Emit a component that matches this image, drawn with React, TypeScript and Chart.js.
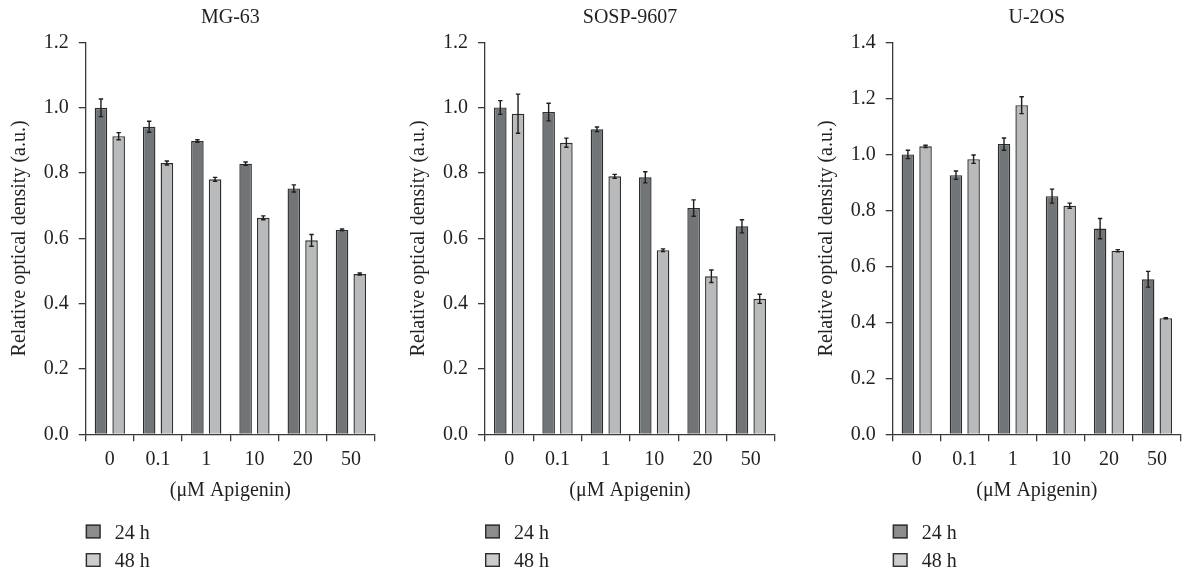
import React, { useEffect, useRef } from "react";
import { Chart, registerables } from "chart.js";

Chart.register(...registerables);

const categories = ["0", "0.1", "1", "10", "20", "50"];
const seriesLabels = ["24 h", "48 h"];
const panelTitles = ["MG-63", "SOSP-9607", "U-2OS"];
const yMaxes = [1.2, 1.2, 1.4];

const mg63_24h = [1.0, 0.942, 0.898, 0.829, 0.753, 0.626];
const mg63_24hErr = [0.027, 0.017, 0.004, 0.005, 0.011, 0.003];
const mg63_48h = [0.913, 0.831, 0.781, 0.663, 0.594, 0.491];
const mg63_48hErr = [0.011, 0.006, 0.006, 0.006, 0.018, 0.003];

const sosp_24h = [1.001, 0.987, 0.934, 0.787, 0.693, 0.637];
const sosp_24hErr = [0.021, 0.027, 0.007, 0.017, 0.025, 0.02];
const sosp_48h = [0.982, 0.893, 0.79, 0.564, 0.484, 0.415];
const sosp_48hErr = [0.06, 0.014, 0.006, 0.004, 0.019, 0.014];

const u2os_24h = [1.0, 0.926, 1.037, 0.851, 0.735, 0.554];
const u2os_24hErr = [0.015, 0.015, 0.022, 0.025, 0.036, 0.028];
const u2os_48h = [1.029, 0.983, 1.176, 0.817, 0.656, 0.415];
const u2os_48hErr = [0.004, 0.015, 0.03, 0.009, 0.004, 0.002];

const FONT = "'Liberation Serif', 'Times New Roman', serif";
const TEXT = "#231f20";
const AXIS = "#3a3a3a";
const BAR_FILL = ["#717577", "#b8babb"];
const SWATCH_FILL = ["#8a8c8e", "#cacccd"];
const BAR_BORDER = "#2e2e2e";

type PanelProps = {
  title: string;
  s24: number[];
  e24: number[];
  s48: number[];
  e48: number[];
  yMax: number;
  left: number;
  padLeft: number;
  padRight: number;
};

function Panel({ title, s24, e24, s48, e48, yMax, left, padLeft, padRight }: PanelProps) {
  const ref = useRef<HTMLCanvasElement | null>(null);
  useEffect(() => {
    if (!ref.current) return;
    const errors = [e24, e48];
    const decor = {
      id: "decor",
      afterDatasetsDraw(chart: any) {
        const ctx = chart.ctx;
        const yScale = chart.scales.y;
        ctx.save();
        ctx.strokeStyle = "#1e1e1e";
        ctx.lineWidth = 1.4;
        chart.data.datasets.forEach((ds: any, di: number) => {
          const meta = chart.getDatasetMeta(di);
          meta.data.forEach((el: any, i: number) => {
            const v = ds.data[i];
            const e = errors[di][i];
            const yt = yScale.getPixelForValue(v + e);
            const yb = yScale.getPixelForValue(v - e);
            const x = el.x;
            const cap = 2.2;
            ctx.beginPath();
            ctx.moveTo(x, yt);
            ctx.lineTo(x, yb);
            ctx.moveTo(x - cap, yt);
            ctx.lineTo(x + cap, yt);
            ctx.moveTo(x - cap, yb);
            ctx.lineTo(x + cap, yb);
            ctx.stroke();
          });
        });
        ctx.restore();
      },
      afterDraw(chart: any) {
        const ctx = chart.ctx;
        const area = chart.chartArea;
        ctx.save();
        ctx.fillStyle = TEXT;
        ctx.font = `20px ${FONT}`;
        ctx.textAlign = "center";
        ctx.textBaseline = "alphabetic";
        ctx.fillText(title, (area.left + area.right) / 2, 23);
        // legend
        const rows = [524.5, 553];
        chart.data.datasets.forEach((ds: any, di: number) => {
          const x0 = area.left;
          const y0 = rows[di];
          ctx.fillStyle = SWATCH_FILL[di];
          ctx.fillRect(x0, y0, 15, 14);
          ctx.strokeStyle = BAR_BORDER;
          ctx.lineWidth = 1.4;
          ctx.strokeRect(x0 + 0.7, y0 + 0.7, 13.6, 12.6);
          ctx.fillStyle = TEXT;
          ctx.textAlign = "left";
          ctx.fillText(ds.label, x0 + 29, y0 + 14);
        });
        ctx.restore();
      },
    };
    const chart = new Chart(ref.current, {
      type: "bar",
      data: {
        labels: categories,
        datasets: [
          {
            label: seriesLabels[0],
            data: s24,
            backgroundColor: BAR_FILL[0],
            borderColor: BAR_BORDER,
            borderWidth: 1.4,
            categoryPercentage: 0.734,
            barPercentage: 0.71,
          },
          {
            label: seriesLabels[1],
            data: s48,
            backgroundColor: BAR_FILL[1],
            borderColor: BAR_BORDER,
            borderWidth: 1.4,
            categoryPercentage: 0.734,
            barPercentage: 0.71,
          },
        ],
      },
      options: {
        responsive: false,
        animation: false,
        devicePixelRatio: 1,
        layout: { padding: { left: padLeft, right: padRight, top: 42.5, bottom: 70.7 } },
        plugins: {
          legend: { display: false },
          title: { display: false },
          tooltip: { enabled: false },
        },
        scales: {
          x: {
            afterFit: (s: any) => {
              s.height = 68;
            },
            grid: {
              display: true,
              drawOnChartArea: false,
              drawTicks: true,
              tickLength: 7,
              offset: true,
              color: AXIS,
              lineWidth: 1.3,
            },
            border: { display: true, color: AXIS, width: 1.3 },
            ticks: {
              color: TEXT,
              font: { family: FONT, size: 20 },
              padding: 6,
              maxRotation: 0,
              autoSkip: false,
            },
            title: {
              display: true,
              text: "(μM Apigenin)",
              color: TEXT,
              font: { family: FONT, size: 20 },
              padding: 0,
            },
          },
          y: {
            min: 0,
            max: yMax,
            afterFit: (s: any) => {
              s.width = 78;
            },
            grid: {
              display: true,
              drawOnChartArea: false,
              drawTicks: true,
              tickLength: 7,
              color: AXIS,
              lineWidth: 1.3,
            },
            border: { display: true, color: AXIS, width: 1.3 },
            ticks: {
              stepSize: 0.2,
              color: TEXT,
              font: { family: FONT, size: 20 },
              padding: 10,
              callback: (v: any) => Number(v).toFixed(1),
            },
            title: {
              display: true,
              text: "Relative optical density (a.u.)",
              color: TEXT,
              font: { family: FONT, size: 20 },
              padding: 0,
            },
          },
        },
      },
      plugins: [decor],
    });
    return () => chart.destroy();
  }, []);
  return (
    <canvas
      ref={ref}
      width={394}
      height={573}
      style={{ position: "absolute", left, top: 0, width: 394, height: 573, display: "block" }}
    />
  );
}

export default function App() {
  return (
    <div
      style={{
        position: "absolute",
        left: 0,
        top: 0,
        width: 1182,
        height: 573,
        overflow: "hidden",
        background: "#fff",
      }}
    >
      <Panel title={panelTitles[0]} s24={mg63_24h} e24={mg63_24hErr} s48={mg63_48h} e48={mg63_48hErr} yMax={yMaxes[0]} left={0} padLeft={7.7} padRight={19} />
      <Panel title={panelTitles[1]} s24={sosp_24h} e24={sosp_24hErr} s48={sosp_48h} e48={sosp_48hErr} yMax={yMaxes[1]} left={394} padLeft={13} padRight={13} />
      <Panel title={panelTitles[2]} s24={u2os_24h} e24={u2os_24hErr} s48={u2os_48h} e48={u2os_48hErr} yMax={yMaxes[2]} left={788} padLeft={26.7} padRight={1} />
    </div>
  );
}
